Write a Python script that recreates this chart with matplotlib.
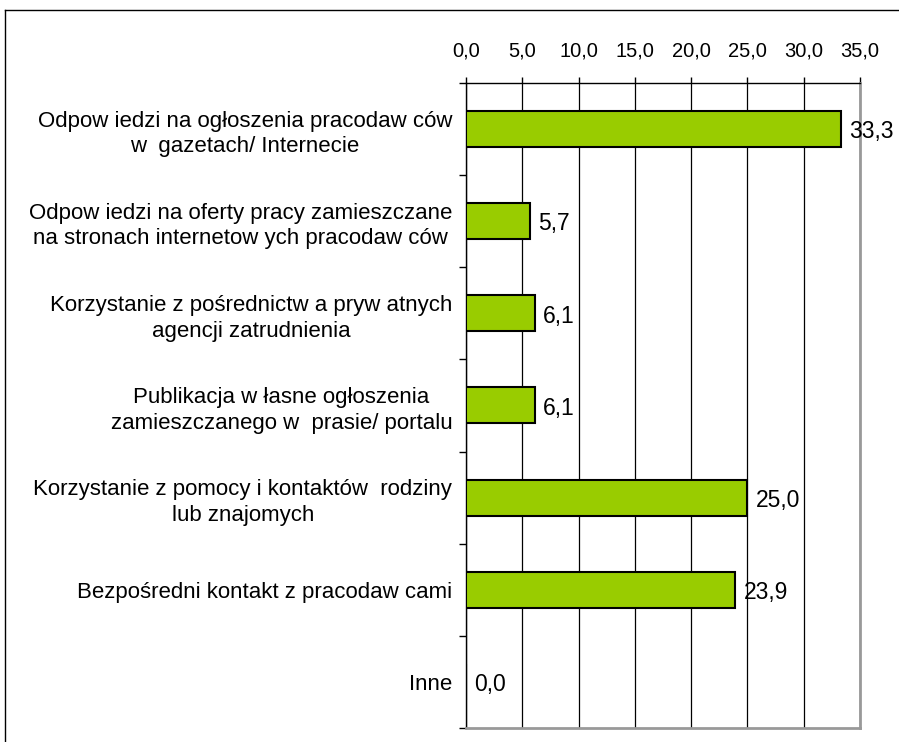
import numpy as np
import matplotlib.pyplot as plt
from matplotlib.lines import Line2D

categories = [
    "Odpow iedzi na ogłoszenia pracodaw ców\nw  gazetach/ Internecie",
    "Odpow iedzi na oferty pracy zamieszczane\nna stronach internetow ych pracodaw ców",
    "Korzystanie z pośrednictw a pryw atnych\nagencji zatrudnienia",
    "Publikacja w łasne ogłoszenia\nzamieszczanego w  prasie/ portalu",
    "Korzystanie z pomocy i kontaktów  rodziny\nlub znajomych",
    "Bezpośredni kontakt z pracodaw cami",
    "Inne",
]
values = [33.3, 5.7, 6.1, 6.1, 25.0, 23.9, 0.0]
xticks = [0, 5, 10, 15, 20, 25, 30, 35]

plt.rcParams['font.family'] = ['Liberation Sans', 'DejaVu Sans']

fig = plt.figure(figsize=(8.99, 7.42), dpi=100)
ax = fig.add_axes([0.5184, 0.0189, 0.4383, 0.8693])

y = np.arange(len(categories))
ax.barh(y, values, height=0.39, color='#99CC00', edgecolor='black', linewidth=1.5, zorder=3)

for yi, v in zip(y, values):
    ax.annotate(f"{v:.1f}".replace('.', ','), (v, yi), xytext=(6, -2), textcoords='offset points',
                va='center', ha='left', fontsize=16.5, zorder=4)

ax.set_xlim(0, 35)
ax.set_ylim(len(categories) - 0.5, -0.5)

ax.xaxis.tick_top()
ax.set_xticks(xticks)
ax.set_xticklabels([f"{t:.1f}".replace('.', ',') for t in xticks], fontsize=14.5)
ax.tick_params(axis='x', direction='out', length=4, width=1, pad=12)
ax.grid(axis='x', color='black', linewidth=0.9, zorder=0)

ax.set_yticks(np.arange(len(categories) + 1) - 0.5)
ax.set_yticklabels([])
ax.set_yticks(y, minor=True)
ax.set_yticklabels(categories, minor=True, fontsize=16)
ax.tick_params(axis='y', which='major', direction='out', length=5, width=1)
ax.tick_params(axis='y', which='minor', length=0, pad=10)
for t in ax.get_yticklabels(minor=True):
    t.set_multialignment('center')
    t.set_linespacing(1.3)

for s in ['right', 'bottom']:
    ax.spines[s].set_color('#999999')
    ax.spines[s].set_linewidth(2)
for s in ['left', 'top']:
    ax.spines[s].set_color('black')
    ax.spines[s].set_linewidth(1)

# outer frame
fig.add_artist(Line2D([0.0056, 0.0056], [0, 0.987], color='black', linewidth=1))
fig.add_artist(Line2D([0.0056, 1.0], [0.987, 0.987], color='black', linewidth=1))

fig.savefig('out.png', dpi=100)
